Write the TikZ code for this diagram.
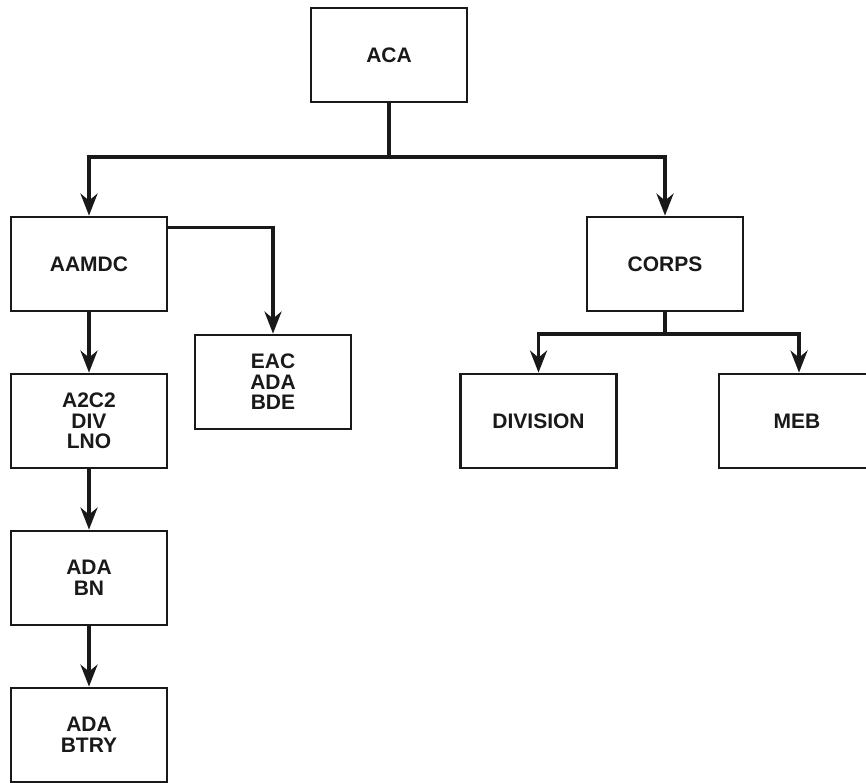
\documentclass[tikz,border=0pt]{standalone}
\usepackage{fontspec}
\setmainfont{Liberation Sans}
\usetikzlibrary{arrows.meta}
\begin{document}
\begin{tikzpicture}[x=1pt,y=-1pt,
  box/.style={draw=black!90, line width=2.8pt, minimum width=156pt, minimum height=94pt,
    inner sep=0pt, align=center, font=\fontsize{21}{20.5}\selectfont\bfseries, text=black!90},
  conn/.style={draw=black!90, line width=3.6pt},
  arr/.style={conn, -{Stealth[length=22pt,width=17pt,inset=7pt]}}]
\useasboundingbox (0,0) rectangle (866,782);
\node[box] (aca) at (389,55) {ACA};
\node[box] (aamdc) at (89,264) {AAMDC};
\node[box] (corps) at (665,264) {CORPS};
\node[box] (eac) at (273,382) {EAC\\ADA\\BDE};
\node[box] (a2c2) at (89,421) {A2C2\\DIV\\LNO};
\node[box] (div) at (538.5,421) {DIVISION};
\node[box] (meb) at (797,421) {MEB};
\node[box] (bn) at (89,578) {ADA\\BN};
\node[box] (btry) at (89,735) {ADA\\BTRY};
\coordinate (j1) at (389,157);
\coordinate (j2) at (665,334);
\draw[conn] (aca.south) -- (j1);
\draw[arr] (j1) -| (aamdc.north);
\draw[arr] (j1) -| (corps.north);
\draw[arr] ([yshift=-12pt]aamdc.north east) -| (eac.north);
\draw[arr] (aamdc.south) -- (a2c2.north);
\draw[arr] (a2c2.south) -- (bn.north);
\draw[arr] (bn.south) -- (btry.north);
\draw[conn] (corps.south) -- (j2);
\draw[arr] (j2) -| (div.north);
\draw[arr] (j2) -| ([xshift=2pt]meb.north);
\end{tikzpicture}
\end{document}
